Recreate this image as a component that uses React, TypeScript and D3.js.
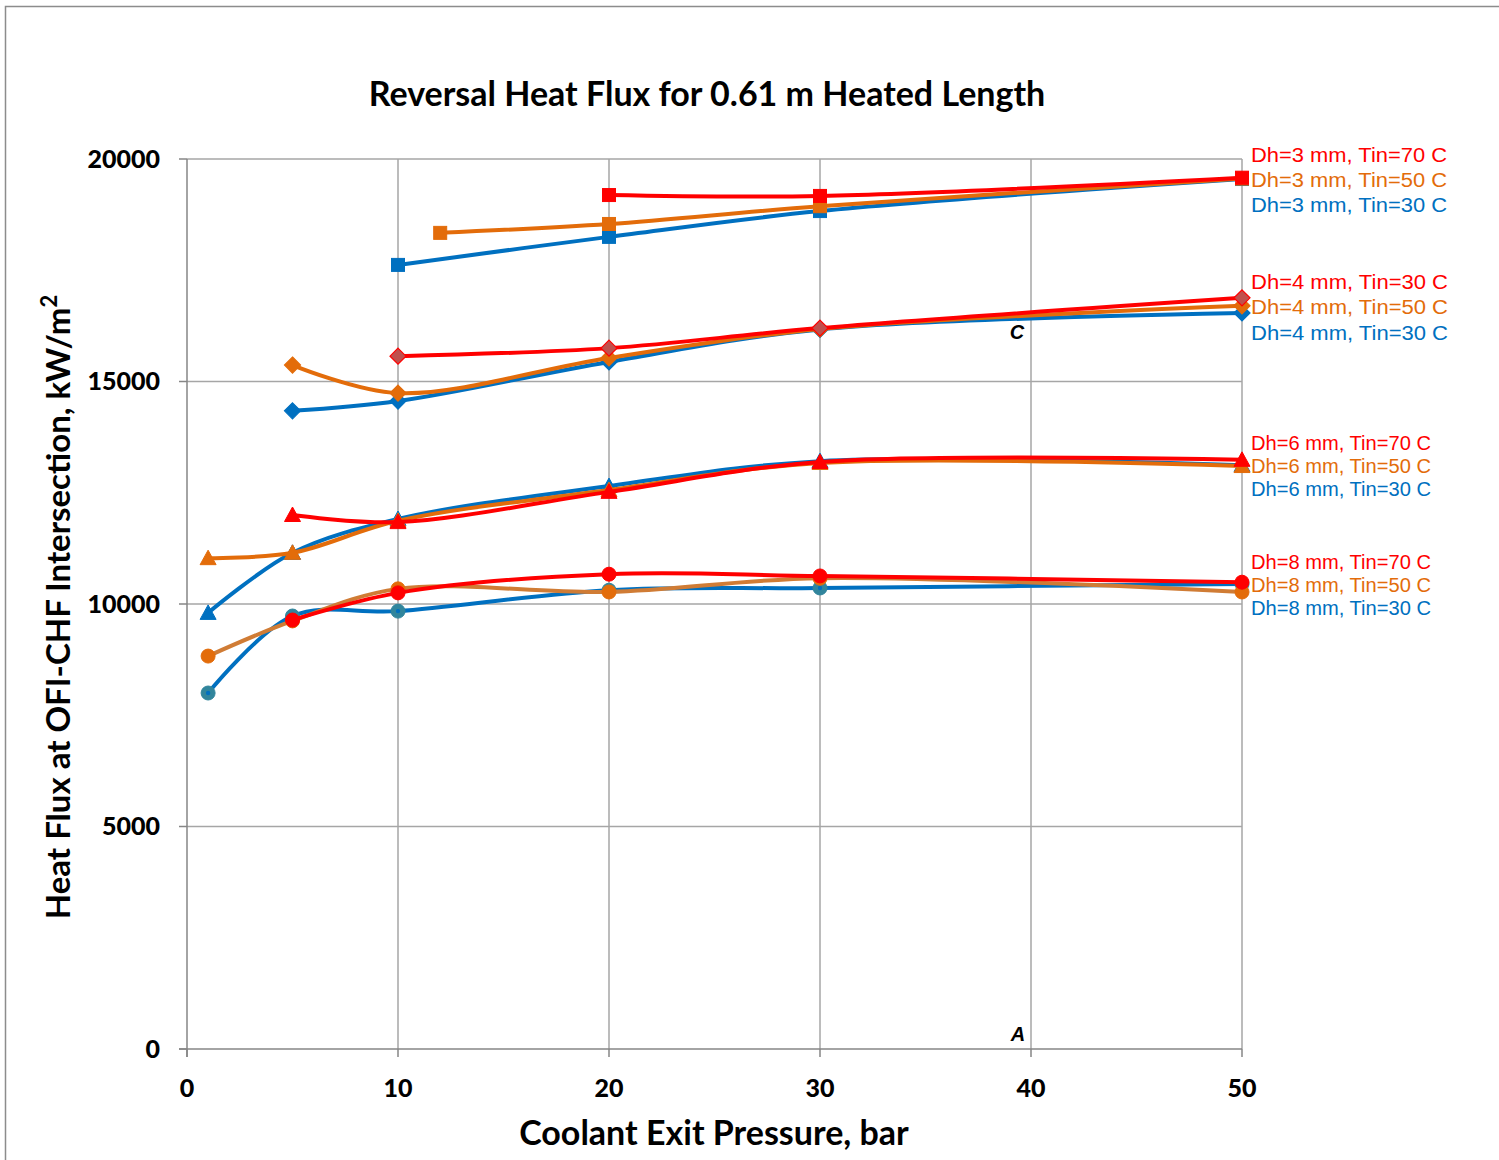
import React from "react";
import * as d3 from "d3";

// Axis ticks
const xTicks = [0, 10, 20, 30, 40, 50];
const yTicks = [0, 5000, 10000, 15000, 20000];

// Reversal heat flux (kW/m²) vs coolant exit pressure (bar), [pressure, flux]
const dh3Tin70 = [[20, 19190], [30, 19170], [50, 19580]];
const dh3Tin50 = [[12, 18340], [20, 18540], [30, 18940], [50, 19560]];
const dh3Tin30 = [[10, 17620], [20, 18250], [30, 18830], [50, 19550]];

const dh4Tin70 = [[10, 15570], [20, 15750], [30, 16200], [50, 16880]];
const dh4Tin50 = [[5, 15370], [10, 14740], [20, 15530], [30, 16180], [50, 16700]];
const dh4Tin30 = [[5, 14340], [10, 14560], [20, 15440], [30, 16170], [50, 16540]];

const dh6Tin70 = [[5, 12000], [10, 11840], [20, 12520], [30, 13190], [50, 13240]];
const dh6Tin50 = [[1, 11030], [5, 11150], [10, 11870], [20, 12560], [30, 13170], [50, 13100]];
const dh6Tin30 = [[1, 9800], [5, 11150], [10, 11910], [20, 12650], [30, 13210], [50, 13120]];

const dh8Tin70 = [[5, 9640], [10, 10250], [20, 10670], [30, 10630], [50, 10490]];
const dh8Tin50 = [[1, 8830], [5, 9620], [10, 10340], [20, 10270], [30, 10580], [50, 10270]];
const dh8Tin30 = [[1, 8000], [5, 9730], [10, 9840], [20, 10310], [30, 10360], [50, 10450]];

// Series labels, top to bottom for each tube diameter
const dh3Labels = ["Dh=3 mm, Tin=70 C", "Dh=3 mm, Tin=50 C", "Dh=3 mm, Tin=30 C"];
const dh4Labels = ["Dh=4 mm, Tin=30 C", "Dh=4 mm, Tin=50 C", "Dh=4 mm, Tin=30 C"];
const dh6Labels = ["Dh=6 mm, Tin=70 C", "Dh=6 mm, Tin=50 C", "Dh=6 mm, Tin=30 C"];
const dh8Labels = ["Dh=8 mm, Tin=70 C", "Dh=8 mm, Tin=50 C", "Dh=8 mm, Tin=30 C"];

const RED = "#FF0000";
const ORANGE = "#E36C0A";
const BLUE = "#0070C0";
const LABEL_COLORS = [RED, ORANGE, BLUE];

type Marker = "square" | "diamond" | "triangle" | "circle";

interface Series {
  data: number[][];
  line: string;
  fill: string;
  stroke: string;
  marker: Marker;
  dot?: string;
}

interface Group {
  labels: string[];
  series: Series[]; // drawn in order: 30, 50, 70
  labelWidth: number;
  labelGap: number;
}

const groups: Group[] = [
  {
    labels: dh3Labels,
    labelWidth: 196,
    labelGap: 25,
    series: [
      { data: dh3Tin30, line: BLUE, fill: BLUE, stroke: BLUE, marker: "square" },
      { data: dh3Tin50, line: ORANGE, fill: ORANGE, stroke: ORANGE, marker: "square" },
      { data: dh3Tin70, line: RED, fill: RED, stroke: RED, marker: "square" },
    ],
  },
  {
    labels: dh4Labels,
    labelWidth: 197,
    labelGap: 25.5,
    series: [
      { data: dh4Tin30, line: BLUE, fill: BLUE, stroke: BLUE, marker: "diamond" },
      { data: dh4Tin50, line: ORANGE, fill: ORANGE, stroke: ORANGE, marker: "diamond" },
      { data: dh4Tin70, line: RED, fill: "#C0504D", stroke: RED, marker: "diamond" },
    ],
  },
  {
    labels: dh6Labels,
    labelWidth: 180,
    labelGap: 23,
    series: [
      { data: dh6Tin30, line: BLUE, fill: BLUE, stroke: BLUE, marker: "triangle" },
      { data: dh6Tin50, line: ORANGE, fill: ORANGE, stroke: ORANGE, marker: "triangle" },
      { data: dh6Tin70, line: RED, fill: RED, stroke: RED, marker: "triangle" },
    ],
  },
  {
    labels: dh8Labels,
    labelWidth: 180,
    labelGap: 23,
    series: [
      { data: dh8Tin30, line: BLUE, fill: "#31859C", stroke: "#31859C", marker: "circle", dot: BLUE },
      { data: dh8Tin50, line: "#D07C35", fill: ORANGE, stroke: ORANGE, marker: "circle" },
      { data: dh8Tin70, line: RED, fill: RED, stroke: RED, marker: "circle" },
    ],
  },
];

const W = 1499;
const H = 1160;
const plot = { left: 187, right: 1242, top: 159, bottom: 1049 };

const x = d3.scaleLinear().domain([0, 50]).range([plot.left, plot.right]);
const y = d3.scaleLinear().domain([0, 20000]).range([plot.bottom, plot.top]);

const line = d3
  .line<number[]>()
  .x((d) => x(d[0]))
  .y((d) => y(d[1]))
  .curve(d3.curveCatmullRom.alpha(0.5));

const HEAD_FONT = "Lato, 'Open Sans', sans-serif";
const LABEL_FONT = "'Liberation Sans', Arial, sans-serif";

function MarkerShape({ s, px, py }: { s: Series; px: number; py: number }) {
  switch (s.marker) {
    case "square":
      return <rect x={px - 6.5} y={py - 6.5} width={13} height={13} fill={s.fill} stroke={s.stroke} strokeWidth={1} />;
    case "diamond":
      return (
        <path
          d={`M${px},${py - 8}L${px + 8},${py}L${px},${py + 8}L${px - 8},${py}Z`}
          fill={s.fill}
          stroke={s.stroke}
          strokeWidth={1.2}
        />
      );
    case "triangle":
      return (
        <path
          d={`M${px},${py - 8}L${px + 8},${py + 6.5}L${px - 8},${py + 6.5}Z`}
          fill={s.fill}
          stroke={s.stroke}
          strokeWidth={1}
        />
      );
    case "circle":
      return (
        <g>
          <circle cx={px} cy={py} r={7} fill={s.fill} stroke={s.stroke} strokeWidth={1} />
          {s.dot && <circle cx={px} cy={py} r={2.2} fill={s.dot} />}
        </g>
      );
  }
}

export default function App() {
  const gridColor = "#A6A6A6";
  const axisColor = "#868686";

  return (
    <svg
      width={W}
      height={H}
      viewBox={`0 0 ${W} ${H}`}
      style={{ position: "absolute", left: 0, top: 0, background: "#fff" }}
    >
      {/* chart frame */}
      <path d={`M5.5,${H}V6.5H${W}`} fill="none" stroke="#8C8C8C" strokeWidth={1.5} />

      {/* title */}
      <text
        x={707}
        y={106}
        textAnchor="middle"
        fontFamily={HEAD_FONT}
        fontWeight={700}
        fontSize={34}
        fill="#000"
      >
        Reversal Heat Flux for 0.61 m Heated Length
      </text>

      {/* gridlines */}
      {yTicks
        .filter((t) => t > 0)
        .map((t) => (
          <line key={"gy" + t} x1={plot.left} x2={plot.right} y1={y(t)} y2={y(t)} stroke={gridColor} strokeWidth={1.5} />
        ))}
      {xTicks
        .filter((t) => t > 0)
        .map((t) => (
          <line key={"gx" + t} x1={x(t)} x2={x(t)} y1={plot.top} y2={plot.bottom} stroke={gridColor} strokeWidth={1.5} />
        ))}

      {/* axes */}
      <line x1={plot.left} x2={plot.left} y1={plot.top} y2={plot.bottom + 8} stroke={axisColor} strokeWidth={1.5} />
      <line x1={plot.left - 8} x2={plot.right} y1={plot.bottom} y2={plot.bottom} stroke={axisColor} strokeWidth={1.5} />
      {yTicks.map((t) => (
        <line key={"ty" + t} x1={plot.left - 8} x2={plot.left} y1={y(t)} y2={y(t)} stroke={axisColor} strokeWidth={1.5} />
      ))}
      {xTicks.map((t) => (
        <line key={"tx" + t} x1={x(t)} x2={x(t)} y1={plot.bottom} y2={plot.bottom + 8} stroke={axisColor} strokeWidth={1.5} />
      ))}

      {/* tick labels */}
      {yTicks.map((t) => (
        <text
          key={"ly" + t}
          x={plot.left - 27}
          y={y(t)}
          dy="0.35em"
          textAnchor="end"
          fontFamily={HEAD_FONT}
          fontWeight={900}
          fontSize={25}
        >
          {t}
        </text>
      ))}
      {xTicks.map((t) => (
        <text
          key={"lx" + t}
          x={x(t)}
          y={plot.bottom + 48}
          textAnchor="middle"
          fontFamily={HEAD_FONT}
          fontWeight={900}
          fontSize={25}
        >
          {t}
        </text>
      ))}

      {/* axis titles */}
      <text x={714} y={1145} textAnchor="middle" fontFamily={HEAD_FONT} fontWeight={700} fontSize={34}>
        Coolant Exit Pressure, bar
      </text>
      <text
        transform="translate(70,607) rotate(-90)"
        textAnchor="middle"
        fontFamily={HEAD_FONT}
        fontWeight={700}
        fontSize={33}
      >
        Heat Flux at OFI-CHF Intersection, kW/m
        <tspan fontSize={22} dy={-13}>
          2
        </tspan>
      </text>

      {/* region markers */}
      <text x={1017} y={339} textAnchor="middle" fontFamily={LABEL_FONT} fontStyle="italic" fontWeight={700} fontSize={20}>
        C
      </text>
      <text x={1018} y={1041} textAnchor="middle" fontFamily={LABEL_FONT} fontStyle="italic" fontWeight={700} fontSize={20}>
        A
      </text>

      {/* series */}
      {groups.map((g, gi) => (
        <g key={"g" + gi}>
          {g.series.map((s, si) => (
            <g key={"s" + si}>
              <path d={line(s.data) || ""} fill="none" stroke={s.line} strokeWidth={4} strokeLinejoin="round" strokeLinecap="round" />
              {s.data.map((d, di) => (
                <MarkerShape key={di} s={s} px={x(d[0])} py={y(d[1])} />
              ))}
            </g>
          ))}
        </g>
      ))}

      {/* series labels at the right end, centred on the median end value */}
      {groups.map((g, gi) => {
        const ends = g.series.map((s) => y(s.data[s.data.length - 1][1]));
        const mid = (d3.median(ends) as number) + 1.5;
        return g.labels.map((lab, li) => (
          <text
            key={"lab" + gi + li}
            x={1251}
            y={mid + (li - 1) * g.labelGap}
            dy="0.35em"
            fontFamily={LABEL_FONT}
            fontSize={19.5}
            fill={LABEL_COLORS[li]}
            textLength={g.labelWidth}
            lengthAdjust="spacingAndGlyphs"
          >
            {lab}
          </text>
        ));
      })}
    </svg>
  );
}
